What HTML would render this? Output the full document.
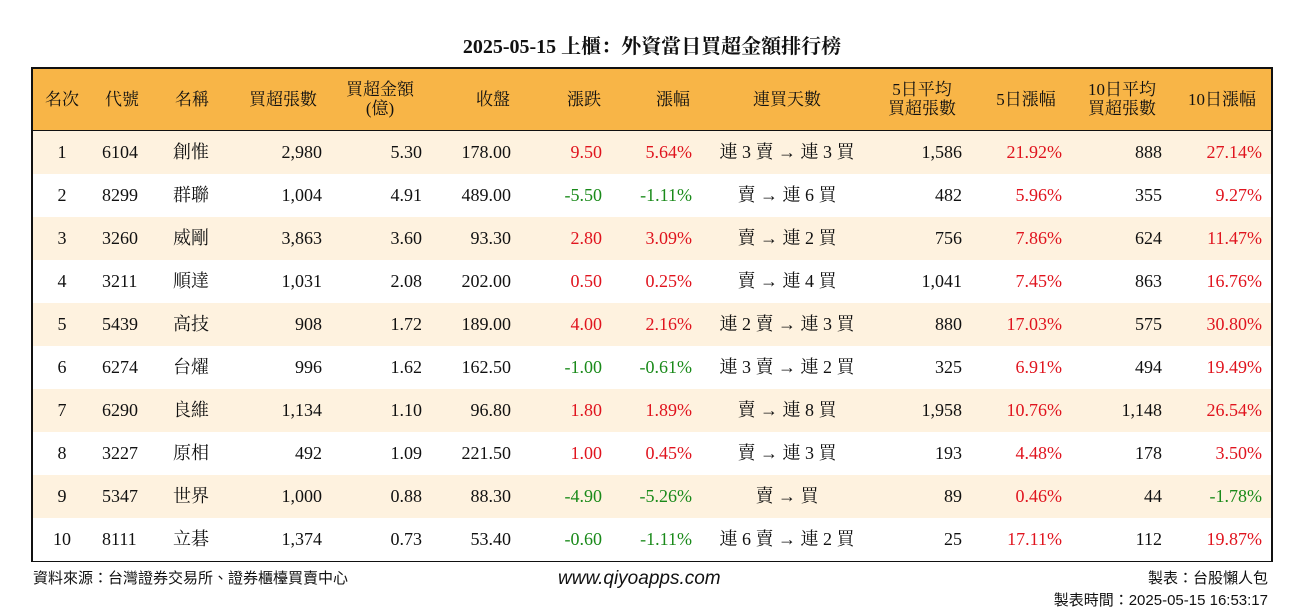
<!DOCTYPE html>
<html><head><meta charset="utf-8">
<style>
body{margin:0;width:1304px;height:612px;background:#fff;position:relative;font-family:"Liberation Serif","Noto Serif CJK SC","Noto Sans CJK TC",serif;color:#111;overflow:hidden}
.t{position:absolute;white-space:nowrap}
#title{left:0;width:1304px;top:30px;text-align:center;font-size:20px;font-weight:bold}
#box{position:absolute;left:31px;top:67px;width:1238px;height:491px;border:2px solid #111}
#hdr{position:absolute;left:0;top:0;width:1238px;height:61px;background:#F8B547;border-bottom:2px solid #111}
.row{position:absolute;left:0;width:1238px;height:43px}
.c{position:absolute;font-size:18px;line-height:43px;white-space:nowrap}
.h{position:absolute;font-size:17px;line-height:19px;white-space:nowrap;text-align:center;width:120px}
.r{color:#E0141E}.g{color:#1A8A1A}
.foot{position:absolute;font-size:15px;font-family:"Liberation Sans","Noto Sans CJK TC",sans-serif}
</style></head><body>
<div class="t" id="title">2025-05-15 上櫃：外資當日買超金額排行榜</div>
<div id="box">
<div id="hdr"></div>
<div id="rows"></div>
</div>
<div class="foot" style="left:33px;top:567px">資料來源：台灣證券交易所、證券櫃檯買賣中心</div>
<div class="foot" style="left:558px;top:568px;font-size:19px;font-style:italic">www.qiyoapps.com</div>
<div class="foot" style="right:36px;top:567px">製表：台股懶人包</div>
<div class="foot" style="right:36px;top:589px">製表時間：2025-05-15 16:53:17</div>
<script>
const headers=[["名次",62],["代號",122],["名稱",192],["買超張數",283],["買超金額<br>(億)",380],["收盤",493],["漲跌",584],["漲幅",673],["連買天數",787],["5日平均<br>買超張數",922],["5日漲幅",1026],["10日平均<br>買超張數",1122],["10日漲幅",1222]];
const ranks=[1,2,3,4,5,6,7,8,9,10];
const codes=["6104","8299","3260","3211","5439","6274","6290","3227","5347","8111"];
const names=["創惟","群聯","威剛","順達","高技","台燿","良維","原相","世界","立碁"];
const vols=["2,980","1,004","3,863","1,031","908","996","1,134","492","1,000","1,374"];
const amts=["5.30","4.91","3.60","2.08","1.72","1.62","1.10","1.09","0.88","0.73"];
const closes=["178.00","489.00","93.30","202.00","189.00","162.50","96.80","221.50","88.30","53.40"];
const chg=[9.50,-5.50,2.80,0.50,4.00,-1.00,1.80,1.00,-4.90,-0.60];
const pct=[5.64,-1.11,3.09,0.25,2.16,-0.61,1.89,0.45,-5.26,-1.11];
const streak=["連 3 賣 → 連 3 買","賣 → 連 6 買","賣 → 連 2 買","賣 → 連 4 買","連 2 賣 → 連 3 買","連 3 賣 → 連 2 買","賣 → 連 8 買","賣 → 連 3 買","賣 → 買","連 6 賣 → 連 2 買"];
const avg5=["1,586","482","756","1,041","880","325","1,958","193","89","25"];
const pct5=[21.92,5.96,7.86,7.45,17.03,6.91,10.76,4.48,0.46,17.11];
const avg10=["888","355","624","863","575","494","1,148","178","44","112"];
const pct10=[27.14,9.27,11.47,16.76,30.80,19.49,26.54,3.50,-1.78,19.87];
const hdr=document.getElementById('hdr');
headers.forEach(h=>{const d=document.createElement('div');d.className='h';


d.innerHTML=h[0];const two=h[0].includes('<br>');d.style.top=two?'11px':'21px';
d.style.left=(h[1]-33-60)+'px';
hdr.appendChild(d);});
const rows=document.getElementById('rows');
function cell(row,text,x,align,cls,name){const d=document.createElement('div');d.className='c'+(cls?' '+cls:'');


d.textContent=text;if(align==='r')d.style.right=(1238-x)+'px';else if(align==='m'){d.style.left=(x-100)+'px';d.style.width='200px';d.style.textAlign='center';}else d.style.left=x+'px';row.appendChild(d);}
const col=v=>v<0?'g':'r';
ranks.forEach((rk,i)=>{const row=document.createElement('div');row.className='row';


row.style.top=(62+i*43)+'px';row.style.background=i%2===0?'#FEF2DF':'#fff';
cell(row,rk,29,'m','','rank');
cell(row,codes[i],69,'l','','stock-code');
cell(row,names[i],140,'l','','stock-name');
cell(row,vols[i],289,'r','','net-buy-volume');
cell(row,amts[i],389,'r','','net-buy-amount');
cell(row,closes[i],478,'r','','close-price');
cell(row,chg[i].toFixed(2),569,'r',col(chg[i]),'price-change');
cell(row,pct[i].toFixed(2)+'%',659,'r',col(pct[i]),'pct-change');
cell(row,streak[i],754,'m','','buy-streak');
cell(row,avg5[i],929,'r','','avg5-volume');
cell(row,pct5[i].toFixed(2)+'%',1029,'r',col(pct5[i]),'pct5-change');
cell(row,avg10[i],1129,'r','','avg10-volume');
cell(row,pct10[i].toFixed(2)+'%',1229,'r',col(pct10[i]),'pct10-change');
rows.appendChild(row);});
</script>
</body></html>
